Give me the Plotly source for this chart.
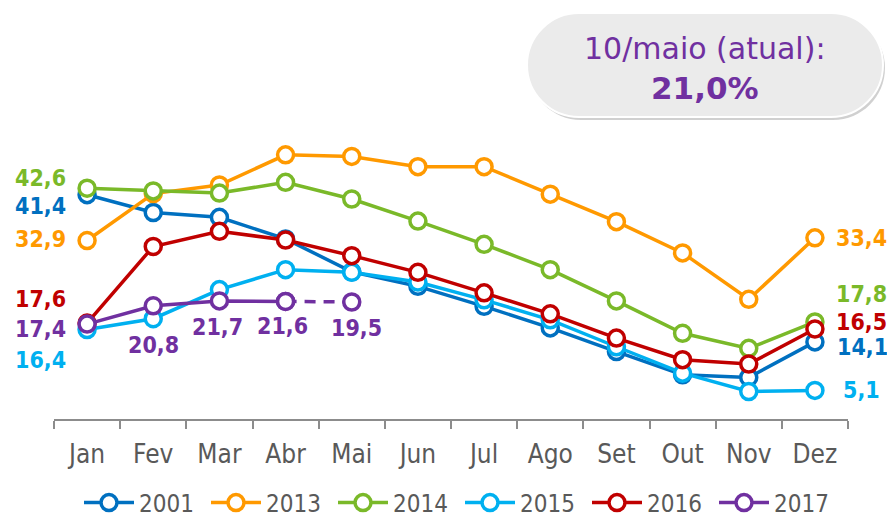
import plotly.graph_objects as go

months = ["Jan", "Fev", "Mar", "Abr", "Mai", "Jun", "Jul", "Ago", "Set", "Out", "Nov", "Dez"]
y2001 = [41.4, 38.1, 37.2, 33.2, 27.1, 24.4, 20.7, 16.7, 12.3, 8.0, 7.5, 14.1]
y2013 = [32.9, 41.6, 43.2, 48.8, 48.5, 46.6, 46.6, 41.5, 36.4, 30.6, 22.0, 33.4]
y2014 = [42.6, 42.1, 41.7, 43.7, 40.6, 36.5, 32.2, 27.5, 21.7, 15.7, 12.9, 17.8]
y2015 = [16.4, 18.4, 23.8, 27.5, 27.0, 25.2, 21.9, 18.2, 13.2, 8.3, 4.9, 5.1]
y2016 = [17.6, 31.8, 34.6, 33.0, 30.1, 27.0, 23.2, 19.3, 14.8, 10.8, 10.0, 16.5]
y2017 = [17.4, 20.8, 21.7, 21.6, 21.5]
labels2017 = ["17,4", "20,8", "21,7", "21,6", "19,5"]

series = [
    ("2001", y2001, "#0070C0"),
    ("2013", y2013, "#FF9900"),
    ("2014", y2014, "#7AB929"),
    ("2015", y2015, "#00B0F0"),
    ("2016", y2016, "#C00000"),
    ("2017", y2017, "#7030A0"),
]

box_title = "10/maio (atual):"
box_value = "21,0%"

FONT = "DejaVu Sans Condensed, DejaVu Sans, sans-serif"
W, H = 887, 519
ML, MR, MT, MB = 54, 39, 130, 100
PW, PH = W - ML - MR, H - MT - MB
MSIZE, LW = 16, 3.5


def px(xp):
    return (xp - ML) / PW


def py(yp):
    return (H - MB - yp) / PH


fig = go.Figure()
for name, ys, col in series:
    mk = dict(size=MSIZE, color="white", line=dict(color=col, width=LW))
    if name == "2017":
        fig.add_trace(go.Scatter(
            x=months[3:5], y=ys[3:5], mode="lines+markers", showlegend=False,
            line=dict(color=col, width=LW, dash="11px,8px"),
            marker=mk, hoverinfo="skip", cliponaxis=False))
        fig.add_trace(go.Scatter(
            x=months[:4], y=ys[:4], mode="lines+markers", name=name,
            line=dict(color=col, width=LW), marker=mk, cliponaxis=False))
    else:
        fig.add_trace(go.Scatter(
            x=months[:len(ys)], y=ys, mode="lines+markers", name=name,
            line=dict(color=col, width=LW), marker=mk, cliponaxis=False))

colors = {n: c for n, _, c in series}
data = {n: y for n, y, _ in series}


def fmt(v):
    return f"{v:.1f}".replace(".", ",")


# Jan labels (left side)
left_shifts = {"2014": 10.6, "2001": -10.8, "2013": 1.4, "2016": 23.8, "2017": -5.1, "2015": -30.4}
for n, ys_ in left_shifts.items():
    fig.add_annotation(x=months[0], y=data[n][0], text=fmt(data[n][0]), showarrow=False,
                       xanchor="right", yanchor="middle", xshift=-19, yshift=ys_,
                       font=dict(family=FONT, size=23, color=colors[n], weight="bold"))

# Dez labels (right side)
right_shifts = {"2013": (19, 0), "2014": (19, 28), "2016": (19, 7.3), "2001": (20, -4.7), "2015": (26, 0)}
for n, (xs, ys_) in right_shifts.items():
    fig.add_annotation(x=months[11], y=data[n][11], text=fmt(data[n][11]), showarrow=False,
                       xanchor="left", yanchor="middle", xshift=xs, yshift=ys_,
                       font=dict(family=FONT, size=23, color=colors[n], weight="bold"))

# 2017 labels below points
below = [(1, 0, -39), (2, -2, -26), (3, -3, -25), (4, 5, -26)]
for i, xs, ys_ in below:
    fig.add_annotation(x=months[i], y=y2017[i], text=labels2017[i], showarrow=False,
                       xanchor="center", yanchor="middle", xshift=xs, yshift=ys_,
                       font=dict(family=FONT, size=23, color=colors["2017"], weight="bold"))


def pill(x0, y0, x1, y1, dx=0, dy=0):
    r = (y1 - y0) / 2
    k = 0.5523 * r
    x0 += dx; x1 += dx; y0 += dy; y1 += dy
    ym = (y0 + y1) / 2
    pts = [
        ("M", [(x0 + r, y0)]),
        ("L", [(x1 - r, y0)]),
        ("C", [(x1 - r + k, y0), (x1, ym - k), (x1, ym)]),
        ("C", [(x1, ym + k), (x1 - r + k, y1), (x1 - r, y1)]),
        ("L", [(x0 + r, y1)]),
        ("C", [(x0 + r - k, y1), (x0, ym + k), (x0, ym)]),
        ("C", [(x0, ym - k), (x0 + r - k, y0), (x0 + r, y0)]),
    ]
    s = ""
    for cmd, ps in pts:
        s += cmd + " ".join(f"{px(a):.5f},{py(b):.5f}" for a, b in ps) + " "
    return s + "Z"


fig.add_shape(type="path", xref="paper", yref="paper", path=pill(527, 13, 883, 117, 2, 3),
              fillcolor="rgba(150,150,150,0.45)", line=dict(width=0), layer="below")
fig.add_shape(type="path", xref="paper", yref="paper", path=pill(527, 13, 883, 117),
              fillcolor="#EBEBEB", line=dict(color="#FFFFFF", width=2), layer="below")
fig.add_annotation(xref="paper", yref="paper", x=px(705), y=py(48), text=box_title,
                   showarrow=False, xanchor="center", yanchor="middle",
                   font=dict(family="DejaVu Sans", size=30, color="#7030A0"))
fig.add_annotation(xref="paper", yref="paper", x=px(705), y=py(88), text=box_value,
                   showarrow=False, xanchor="center", yanchor="middle",
                   font=dict(family="DejaVu Sans", size=31, color="#7030A0", weight="bold"))

fig.update_layout(
    width=W, height=H,
    margin=dict(l=ML, r=MR, t=MT, b=MB, pad=0, autoexpand=False),
    paper_bgcolor="white", plot_bgcolor="white",
    showlegend=True,
    legend=dict(orientation="h", x=px(79), xanchor="left", y=py(503), yanchor="middle",
                font=dict(family=FONT, size=24, color="#595959"),
                entrywidth=62, itemwidth=50, traceorder="normal",
                borderwidth=0, bgcolor="rgba(0,0,0,0)"),
    xaxis=dict(type="category", categoryorder="array", categoryarray=months,
               range=[-0.5, 11.5], showgrid=False, zeroline=False, automargin=False,
               showline=True, linecolor="#8C8C8C", linewidth=2,
               ticks="outside", ticklen=8, tickwidth=2, tickcolor="#8C8C8C",
               tickson="boundaries", ticklabelstandoff=11,
               tickfont=dict(family=FONT, size=26, color="#595959")),
    yaxis=dict(range=[-0.2, 53.4], visible=False, showgrid=False, zeroline=False,
               automargin=False),
)

fig.write_html("out.html", post_script="document.body.style.margin='0';",
               config={"displayModeBar": False})
